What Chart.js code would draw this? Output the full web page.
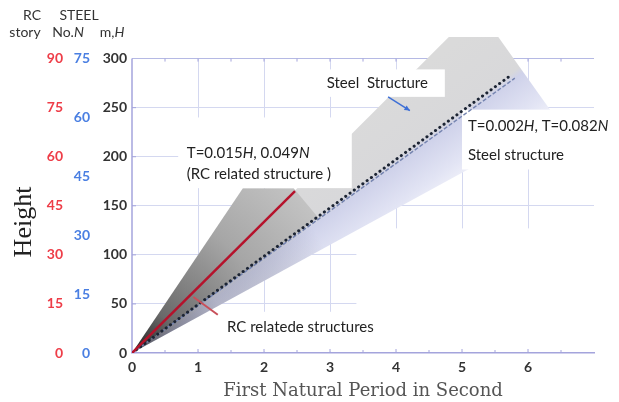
<!DOCTYPE html>
<html>
<head>
<meta charset="utf-8">
<script src="https://cdn.jsdelivr.net/npm/chart.js@4.4.1/dist/chart.umd.min.js"></script>
<style>
  html, body { margin: 0; padding: 0; background: #fff; }
  #wrap { width: 619px; height: 402px; position: relative; }
</style>
</head>
<body>
<div id="wrap"><canvas id="grafica"></canvas></div>
<script>
// Natural period (s) against building height (m), RC and steel structures
const periodTicks = [0, 1, 2, 3, 4, 5, 6];
const heightTicks = [0, 50, 100, 150, 200, 250, 300];
const rcStoryTicks = [0, 15, 30, 45, 60, 75, 90];
const steelStoryTicks = [0, 15, 30, 45, 60, 75];

// T = 0.015H line for RC
const rcLineH = [0, 165];
const rcLineT = [0, 2.47];
// steel trend lines (dotted and dashed)
const steelLineH = [0, 281];
const steelLineT = [0, 5.70];
const steelFitH = [0, 280];
const steelFitT = [0, 5.80];

// shaded bands (closed outlines)
const rcBandH = [0, 168, 168, 138, 0];
const rcBandT = [0, 1.68, 2.45, 2.82, 0];
const steelBandH = [0, 322, 322, 237, 0];
const steelBandT = [0, 4.80, 5.55, 6.45, 0];

const H_MAX = 322;      // top of plotting area, m
const RC_PER_M = 0.3;   // 90 stories ~ 300 m
const ST_PER_M = 0.25;  // 75 stories ~ 300 m

const pts = (T, H) => T.map((t, i) => ({ x: t, y: H[i] }));

function origin(chart) {
  const { x, y } = chart.scales;
  return [x.getPixelForValue(0), y.getPixelForValue(0)];
}

function steelFill(c) {
  const chart = c.chart;
  if (!chart.chartArea) return '#dcdcdc';
  const { x, y } = chart.scales;
  const [ox, oy] = origin(chart);
  const dx = x.getPixelForValue(steelLineT[1]) - ox;
  const dy = y.getPixelForValue(steelLineH[1]) - oy;
  const len = Math.hypot(dx, dy);
  const nx = -dy / len, ny = dx / len;
  const g = chart.ctx.createLinearGradient(ox - 60 * nx, oy - 60 * ny, ox + 70 * nx, oy + 70 * ny);
  g.addColorStop(0, '#dadada');
  g.addColorStop(0.45, '#d8d8da');
  g.addColorStop(0.5, '#cfd2ea');
  g.addColorStop(0.75, '#e2e4f4');
  g.addColorStop(1, '#fbfbfe');
  return g;
}

function originShade(c) {
  const chart = c.chart;
  if (!chart.chartArea) return 'rgba(0,0,0,0)';
  const [ox, oy] = origin(chart);
  const g = chart.ctx.createRadialGradient(ox, oy, 0, ox, oy, 220);
  g.addColorStop(0, 'rgba(30,30,40,0.75)');
  g.addColorStop(0.45, 'rgba(80,80,90,0.25)');
  g.addColorStop(1, 'rgba(0,0,0,0)');
  return g;
}

function rcFill(c) {
  const chart = c.chart;
  if (!chart.chartArea) return '#999';
  const [ox, oy] = origin(chart);
  const g = chart.ctx.createRadialGradient(ox, oy, 0, ox, oy, 240);
  g.addColorStop(0, '#1c1c1c');
  g.addColorStop(0.2, '#6a6a6a');
  g.addColorStop(0.6, '#a6a6a6');
  g.addColorStop(1, '#c6c6c6');
  return g;
}

const tickFont = { family: 'Lato', weight: 'bold', size: 14 };
const lineColor = '#a4a4dc';

function drawRich(ctx, parts, px, py) {
  let cx = px;
  for (const [txt, it] of parts) {
    ctx.font = (it ? 'italic ' : '') + '15px Lato';
    ctx.fillText(txt, cx, py);
    cx += ctx.measureText(txt).width;
  }
}

function arrow(ctx, x0, y0, x1, y1, head) {
  ctx.beginPath();
  ctx.moveTo(x0, y0);
  ctx.lineTo(x1, y1);
  ctx.stroke();
  if (!head) return;
  const a = Math.atan2(y1 - y0, x1 - x0);
  ctx.beginPath();
  ctx.moveTo(x1, y1);
  ctx.lineTo(x1 - head * Math.cos(a - 0.45), y1 - head * Math.sin(a - 0.45));
  ctx.lineTo(x1 - head * Math.cos(a + 0.45), y1 - head * Math.sin(a + 0.45));
  ctx.closePath();
  ctx.fill();
}

const paper = {
  id: 'paper',
  beforeDatasetsDraw(chart) {
    const { ctx, chartArea: a, scales: { x, y } } = chart;
    const X = v => x.getPixelForValue(v), Y = v => y.getPixelForValue(v);
    ctx.save();
    ctx.fillStyle = '#fff';
    // parts of the grid that are not printed
    ctx.fillRect(a.left, a.top - 2, a.right - a.left + 2, Y(300) - a.top + 1.5);
    ctx.fillRect(X(0) + 1, Y(42), X(7) - X(0), Y(0) - Y(42) - 1.5);
    ctx.fillRect(X(3.4), Y(127), X(7) - X(3.4) + 2, Y(0) - Y(127) - 1.5);
    // left spine and small inward ticks
    ctx.strokeStyle = lineColor;
    ctx.lineWidth = 1.5;
    ctx.beginPath();
    ctx.moveTo(X(0), Y(0));
    ctx.lineTo(X(0), Y(300));
    ctx.stroke();
    ctx.lineWidth = 1;
    ctx.beginPath();
    for (let v = 0.5; v < 7; v += 0.5) {
      const len = Number.isInteger(v) ? 4 : 3;
      ctx.moveTo(X(v), Y(0));
      ctx.lineTo(X(v), Y(0) - len);
      ctx.moveTo(X(v), Y(300));
      ctx.lineTo(X(v), Y(300) + 3);
    }
    for (let h = 50; h < 300; h += 50) {
      ctx.moveTo(X(0), Y(h));
      ctx.lineTo(X(0) + 4, Y(h));
    }
    ctx.stroke();
    ctx.restore();
  },
  afterDatasetDraw(chart, args) {
    if (args.index !== 2) return;
    // white label boxes over the bands
    const { ctx, scales: { x, y } } = chart;
    const X = v => x.getPixelForValue(v), Y = v => y.getPixelForValue(v);
    ctx.save();
    ctx.fillStyle = '#fff';
    const box = (t0, t1, h0, h1) => ctx.fillRect(X(t0), Y(h1), X(t1) - X(t0), Y(h0) - Y(h1));
    box(0.70, 3.33, 168, 240);
    box(2.92, 4.74, 261, 289);
    box(5.00, 7.60, 187, 248);
    ctx.restore();
  },
  afterDraw(chart) {
    const { ctx, scales: { x, y } } = chart;
    const X = v => x.getPixelForValue(v), Y = v => y.getPixelForValue(v);
    ctx.save();
    ctx.fillStyle = '#222';
    ctx.textBaseline = 'middle';
    ctx.textAlign = 'left';
    drawRich(ctx, [['Steel  Structure', false]], X(2.95), Y(275));
    drawRich(ctx, [['T=0.015', false], ['H', true], [', 0.049', false], ['N', true]], X(0.83), Y(204));
    drawRich(ctx, [['(RC related structure )', false]], X(0.83), Y(182));
    drawRich(ctx, [['T=0.002', false], ['H', true], [', T=0.082', false], ['N', true]], X(5.09), Y(231));
    drawRich(ctx, [['Steel structure', false]], X(5.09), Y(202));
    drawRich(ctx, [['RC relatede structures', false]], X(1.44), Y(26.5));

    // pointers
    ctx.strokeStyle = '#3d6fd6';
    ctx.fillStyle = '#3d6fd6';
    ctx.lineWidth = 1.5;
    arrow(ctx, X(3.88), Y(261), X(4.21), Y(247), 6);
    ctx.strokeStyle = '#c8505a';
    ctx.lineWidth = 2;
    arrow(ctx, X(1.30), Y(39), X(0.93), Y(57), 0);

    // column headings over the three height scales
    ctx.fillStyle = '#333';
    ctx.textAlign = 'center';
    ctx.font = '14px Lato';
    ctx.fillText('RC', 32, 15);
    ctx.fillText('STEEL', 79, 15);
    ctx.fillText('story', 25, 32);
    const head2 = (a, b, cx) => {
      ctx.font = '14px Lato';
      const wa = ctx.measureText(a).width;
      ctx.font = 'italic 14px Lato';
      const wb = ctx.measureText(b).width;
      const sx = cx - (wa + wb) / 2;
      ctx.textAlign = 'left';
      ctx.font = '14px Lato';
      ctx.fillText(a, sx, 32);
      ctx.font = 'italic 14px Lato';
      ctx.fillText(b, sx + wa, 32);
      ctx.textAlign = 'center';
    };
    head2('No.', 'N', 68);
    head2('m,', 'H', 112);

    // vertical axis name
    ctx.translate(24, 222);
    ctx.rotate(-Math.PI / 2);
    ctx.font = '26px "Liberation Serif"';
    ctx.fillStyle = '#222';
    ctx.fillText('Height', 0, 0);
    ctx.restore();
  }
};

const graph = document.querySelector('#grafica');

new Chart(graph, {
  type: 'line',
  data: {
    datasets: [
      { data: pts(rcLineT, rcLineH), borderColor: '#b5122b', borderWidth: 2.5, order: 1 },
      { data: pts(steelLineT, steelLineH), borderColor: '#1c2433', borderWidth: 3,
        borderDash: [0.1, 5.2], borderCapStyle: 'round', order: 2 },
      { data: pts(rcBandT, rcBandH), fill: 'shape', backgroundColor: rcFill, borderWidth: 0, order: 4 },
      { data: pts(steelFitT, steelFitH), borderColor: '#7584b0', borderWidth: 1.5,
        borderDash: [4, 2], order: 3 },
      { data: pts(steelBandT, steelBandH), fill: 'shape', backgroundColor: originShade, borderWidth: 0, order: 5 },
      { data: pts(steelBandT, steelBandH), fill: 'shape', backgroundColor: steelFill, borderWidth: 0, order: 6 }
    ]
  },
  options: {
    responsive: true,
    maintainAspectRatio: false,
    animation: false,
    events: [],
    layout: { padding: { top: 37, right: 25, left: 0, bottom: 0 } },
    elements: { point: { radius: 0 }, line: { tension: 0 } },
    plugins: { legend: { display: false }, tooltip: { enabled: false } },
    scales: {
      x: {
        type: 'linear', min: 0, max: 7,
        afterBuildTicks: s => {
          const t = [];
          for (let v = 0; v <= 14; v++) t.push({ value: v / 2 });
          s.ticks = t;
        },
        ticks: {
          autoSkip: false, maxRotation: 0, padding: 6, color: '#333', font: tickFont,
          callback: v => periodTicks.includes(v) ? String(v) : ''
        },
        grid: {
          drawTicks: false,
          color: c => (c.tick && periodTicks.includes(c.tick.value) && c.tick.value > 0) ? '#d4d8f0' : 'rgba(0,0,0,0)'
        },
        border: { color: lineColor, width: 1.5 },
        title: {
          display: true, text: 'First Natural Period in Second', color: '#555',
          font: { family: 'DejaVu Serif', size: 18 }, padding: { top: 0, bottom: 0 }
        },
        afterFit: s => { s.height = 49; }
      },
      y: {
        type: 'linear', position: 'left', weight: 1, min: 0, max: H_MAX,
        afterBuildTicks: s => { s.ticks = heightTicks.map(v => ({ value: v })); },
        ticks: { color: '#333', font: tickFont, padding: 5 },
        grid: {
          drawTicks: false,
          color: c => (c.tick && c.tick.value === 300) ? '#aeb2e2' : (c.tick && c.tick.value === 0 ? 'rgba(0,0,0,0)' : '#d4d8f0')
        },
        border: { display: false },
        afterFit: s => { s.width = 40; }
      },
      ySteel: {
        type: 'linear', position: 'left', weight: 2, min: 0, max: H_MAX * ST_PER_M,
        afterBuildTicks: s => { s.ticks = steelStoryTicks.map(v => ({ value: v })); },
        ticks: { color: '#4a7fe2', font: tickFont, padding: 2 },
        grid: { display: false, drawTicks: false },
        border: { display: false },
        afterFit: s => { s.width = 26; }
      },
      yRc: {
        type: 'linear', position: 'left', weight: 3, min: 0, max: H_MAX * RC_PER_M,
        afterBuildTicks: s => { s.ticks = rcStoryTicks.map(v => ({ value: v })); },
        ticks: { color: '#ee3d48', font: tickFont, padding: 3 },
        grid: { display: false, drawTicks: false },
        border: { display: false },
        afterFit: s => { s.width = 66; }
      }
    }
  },
  plugins: [paper]
});
</script>
</body>
</html>
